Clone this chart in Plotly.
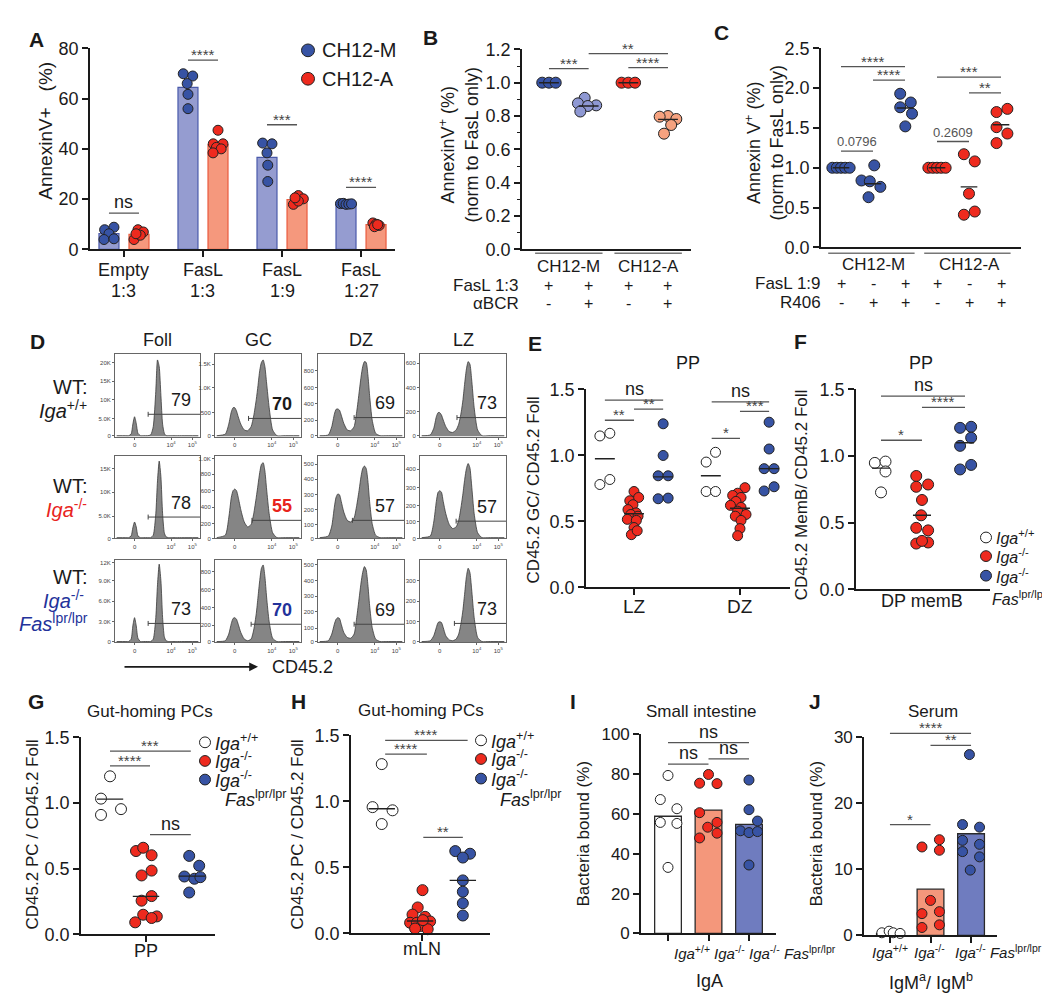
import plotly.graph_objects as go

W, H = 1050, 1007
FONT = "Arial, Liberation Sans, Helvetica, sans-serif"
INK = "#1a1a1a"
SIGC = "#555555"
BLUE = "#3753A4"
RED = "#EE2A1E"
LBLUE = "#8E98D3"
SALMON = "#F6A27F"
REDTXT = "#E8241C"
BLUETXT = "#23329A"

# ======================= DATA =======================
# ---- Panel A ----
A_cat_top = ["Empty", "FasL", "FasL", "FasL"]
A_cat_bottom = ["1:3", "1:3", "1:9", "1:27"]
A_M_means = [6.3, 64.5, 36.6, 18.0]
A_A_means = [6.0, 41.7, 19.8, 9.8]
A_M_points = [[7.8, 8.8, 6.2, 3.9, 4.2], [69.9, 69.0, 66.0, 61.7, 56.0],
              [42.3, 42.0, 38.4, 33.5, 27.0], [18.2, 18.3, 17.9, 18.0, 18.1]]
A_A_points = [[7.8, 6.9, 3.9, 5.6, 6.2], [47.4, 42.0, 42.0, 40.6, 40.0, 38.4],
              [21.4, 20.1, 17.9, 19.2, 20.5], [10.5, 10.0, 9.5, 9.0, 9.8]]
A_sig_text = ["ns", "****", "***", "****"]
A_sig_y = [14.4, 75.3, 49.6, 24.7]
A_M_dx = [[-0.055, 0.063, 0, -0.063, 0.063], [-0.06, 0.06, -0.01, 0, 0],
          [-0.055, 0.063, 0, 0.01, 0.01], [-0.07, -0.035, 0, 0.035, 0.07]]
A_A_dx = [[-0.013, 0.055, -0.063, 0.017, -0.038], [0, -0.06, 0.063, -0.02, 0.04, -0.063],
          [0.017, 0.08, -0.046, 0.017, -0.025], [-0.04, 0, 0.04, -0.02, 0.02]]

# ---- Panel B ----
B_cells = ["CH12-M", "CH12-A"]
B_fasl = ["+", "+", "+", "+"]
B_bcr = ["-", "+", "-", "+"]
B_points = [[1.0, 1.0, 1.0], [0.909, 0.876, 0.864, 0.860, 0.827],
            [1.0, 1.0, 1.0], [0.800, 0.796, 0.782, 0.746, 0.694]]
B_dx = [[-0.17, 0, 0.17], [-0.1, -0.27, 0.19, -0.02, -0.21],
        [-0.17, 0, 0.17], [0, -0.21, 0.21, 0.08, -0.1]]
B_medians = [1.0, 0.86, 1.0, 0.78]
B_sig = [(0, 1, 1.085, "***"), (2, 3, 1.09, "****"), (1, 3, 1.175, "**")]

# ---- Panel C ----
C_cells = ["CH12-M", "CH12-A"]
C_fasl = ["+", "-", "+", "+", "-", "+"]
C_r406 = ["-", "+", "+", "-", "+", "+"]
C_points = [[1, 1, 1, 1, 1], [1.03, 0.84, 0.83, 0.76, 0.63], [1.93, 1.82, 1.76, 1.68, 1.52],
            [1, 1, 1, 1, 1], [1.17, 1.08, 0.675, 0.41, 0.45], [1.70, 1.74, 1.51, 1.43, 1.31]]
C_dx = [[-0.27, -0.13, 0, 0.13, 0.27], [0.04, -0.36, -0.1, 0.23, -0.14], [-0.15, 0.18, -0.15, 0.22, 0.01],
        [-0.27, -0.13, 0, 0.13, 0.27], [-0.16, 0.18, 0, -0.16, 0.18], [-0.14, 0.2, -0.14, 0.2, -0.14]]
C_medians = [1.0, 0.80, 1.75, 1.0, 0.76, 1.54]
C_sig = [(0, 1, 1.21, "0.0796"), (1, 2, 2.10, "****"), (0, 2, 2.27, "****"),
         (3, 4, 1.33, "0.2609"), (4, 5, 1.94, "**"), (3, 5, 2.14, "***")]

# ---- Panel D (flow histograms; curve heights as fraction of box height) ----
D_cols = ["Foll", "GC", "DZ", "LZ"]
HX = [0.02, 0.12, 0.16, 0.19, 0.21, 0.23, 0.25, 0.27, 0.30, 0.34, 0.38, 0.42, 0.45,
      0.48, 0.50, 0.52, 0.54, 0.56, 0.58, 0.60, 0.63, 0.67, 0.72, 0.80, 0.98]
D_curves = [
    [  # row 1 Iga+/+
        [0.01, 0.01, 0.01, 0.03, 0.15, 0.24, 0.16, 0.04, 0.01, 0.01, 0.01, 0.02, 0.12, 0.55, 0.93, 0.85, 0.5, 0.15, 0.04, 0.01, 0.01, 0.01, 0.01, 0.01, 0.01],
        [0.01, 0.03, 0.15, 0.30, 0.35, 0.35, 0.31, 0.24, 0.15, 0.08, 0.07, 0.12, 0.25, 0.45, 0.62, 0.80, 0.90, 0.93, 0.85, 0.65, 0.35, 0.08, 0.01, 0.01, 0.01],
        [0.01, 0.02, 0.12, 0.27, 0.33, 0.335, 0.32, 0.26, 0.16, 0.08, 0.07, 0.12, 0.30, 0.55, 0.72, 0.85, 0.91, 0.90, 0.75, 0.50, 0.20, 0.04, 0.01, 0.01, 0.01],
        [0.01, 0.02, 0.10, 0.24, 0.29, 0.29, 0.26, 0.20, 0.12, 0.06, 0.05, 0.08, 0.15, 0.30, 0.45, 0.65, 0.82, 0.91, 0.88, 0.70, 0.35, 0.08, 0.01, 0.01, 0.01],
    ],
    [  # row 2 Iga-/-
        [0.01, 0.01, 0.01, 0.03, 0.13, 0.20, 0.14, 0.03, 0.01, 0.01, 0.01, 0.01, 0.04, 0.30, 0.70, 0.94, 0.75, 0.30, 0.07, 0.02, 0.01, 0.01, 0.01, 0.01, 0.01],
        [0.01, 0.04, 0.25, 0.50, 0.58, 0.60, 0.58, 0.50, 0.35, 0.20, 0.14, 0.17, 0.30, 0.50, 0.65, 0.80, 0.90, 0.92, 0.82, 0.60, 0.30, 0.07, 0.01, 0.01, 0.01],
        [0.01, 0.03, 0.15, 0.38, 0.50, 0.54, 0.53, 0.45, 0.32, 0.22, 0.20, 0.25, 0.40, 0.60, 0.75, 0.85, 0.88, 0.85, 0.70, 0.45, 0.18, 0.04, 0.01, 0.01, 0.01],
        [0.01, 0.03, 0.20, 0.45, 0.56, 0.58, 0.56, 0.45, 0.30, 0.17, 0.12, 0.14, 0.22, 0.40, 0.55, 0.72, 0.85, 0.91, 0.86, 0.65, 0.30, 0.07, 0.01, 0.01, 0.01],
    ],
    [  # row 3 Iga-/- Fas lpr/lpr
        [0.01, 0.01, 0.01, 0.04, 0.20, 0.30, 0.20, 0.05, 0.01, 0.01, 0.01, 0.01, 0.04, 0.30, 0.70, 0.95, 0.75, 0.30, 0.07, 0.02, 0.01, 0.01, 0.01, 0.01, 0.01],
        [0.01, 0.02, 0.10, 0.23, 0.29, 0.30, 0.28, 0.22, 0.12, 0.04, 0.02, 0.04, 0.15, 0.35, 0.55, 0.75, 0.90, 0.94, 0.80, 0.55, 0.25, 0.05, 0.01, 0.01, 0.01],
        [0.01, 0.02, 0.10, 0.22, 0.28, 0.30, 0.29, 0.22, 0.12, 0.06, 0.05, 0.10, 0.30, 0.55, 0.72, 0.85, 0.92, 0.88, 0.70, 0.45, 0.18, 0.04, 0.01, 0.01, 0.01],
        [0.01, 0.02, 0.08, 0.18, 0.24, 0.25, 0.24, 0.18, 0.08, 0.03, 0.02, 0.04, 0.10, 0.25, 0.40, 0.60, 0.80, 0.90, 0.85, 0.65, 0.30, 0.06, 0.01, 0.01, 0.01],
    ],
]
D_gate_start = [[0.39, 0.39, 0.42, 0.43], [0.39, 0.43, 0.40, 0.42], [0.39, 0.42, 0.42, 0.40]]
D_gate_level = [[0.27, 0.22, 0.23, 0.23], [0.26, 0.22, 0.22, 0.21], [0.23, 0.22, 0.22, 0.23]]
D_gate_pct = [["79", "70", "69", "73"], ["78", "55", "57", "57"], ["73", "70", "69", "73"]]
D_ytick_pos = [
    [[0.01, 0.22, 0.45, 0.67, 0.90], [0.01, 0.29, 0.59, 0.88], [0.01, 0.20, 0.40, 0.59, 0.80], [0.01, 0.30, 0.59, 0.89]],
    [[0.0, 0.27, 0.56, 0.85], [0.0, 0.18, 0.38, 0.58, 0.78, 0.97], [0.0, 0.17, 0.35, 0.53, 0.72, 0.90], [0.0, 0.20, 0.40, 0.62, 0.84]],
    [[0.01, 0.25, 0.50, 0.75, 0.97], [0.01, 0.21, 0.42, 0.64, 0.86], [0.01, 0.17, 0.37, 0.56, 0.75, 0.94], [0.01, 0.25, 0.50, 0.75]],
]
D_ytick_txt = [
    [["0", "5.0K", "10K", "15K", "20K"], ["0", "500", "1.0K", "1.5K"], ["0", "200", "400", "600", "800"], ["0", "200", "400", "600"]],
    [["0", "5.0K", "10K", "15K"], ["0", "200", "400", "600", "800", "1.0K"], ["0", "100", "200", "300", "400", "500"], ["0", "100", "200", "300", "400"]],
    [["0", "3.0K", "6.0K", "9.0K", "12K"], ["0", "200", "400", "600", "800"], ["0", "100", "200", "300", "400", "500"], ["0", "100", "200", "300"]],
]
D_xtick_pos = [0.23, 0.66, 0.91]
D_xtick_txt = ["0", "10<sup>4</sup>", "10<sup>5</sup>"]

# ---- Panel E ----
E_categories = ["LZ", "DZ"]
E_points = {
    "LZ": [[1.148, 1.168, 0.780, 0.818],
           [0.727, 0.657, 0.682, 0.627, 0.590, 0.565, 0.553, 0.540, 0.516, 0.508, 0.454, 0.400, 0.430],
           [1.240, 1.000, 0.846, 0.846, 0.672, 0.677]],
    "DZ": [[0.950, 1.024, 0.727, 0.727],
           [0.756, 0.714, 0.697, 0.682, 0.652, 0.622, 0.607, 0.578, 0.553, 0.540, 0.508, 0.446, 0.392],
           [1.252, 1.049, 0.900, 0.900, 0.731, 0.763]],
}
E_dx = {
    "LZ": [[-0.047, 0.047, -0.047, 0.047],
           [0, -0.04, 0.044, -0.01, -0.057, 0.02, -0.03, 0.038, -0.063, 0.022, 0, -0.025, 0.03],
           [0, 0, -0.047, 0.047, -0.047, 0.047]],
    "DZ": [[-0.044, 0.044, -0.044, 0.044],
           [0.047, -0.022, -0.069, 0.01, -0.038, -0.09, 0.01, -0.022, 0.057, -0.044, 0.01, 0, -0.022],
           [0, 0, -0.047, 0.047, -0.047, 0.047]],
}
E_medians = {"LZ": [0.975, 0.558, 0.838], "DZ": [0.846, 0.600, 0.900]}
E_sig = [(-0.275, 0.0, 1.267, "**"), (0.0, 0.275, 1.351, "**"), (-0.275, 0.275, 1.42, "ns"),
         (0.733, 1.0, 1.13, "*"), (1.0, 1.275, 1.334, "***"), (0.733, 1.275, 1.406, "ns")]

# ---- Panel F ----
F_category = ["DP memB"]
F_points = [[0.949, 0.959, 0.885, 0.728],
            [0.851, 0.770, 0.787, 0.671, 0.556, 0.462, 0.443, 0.344, 0.352, 0.364],
            [1.212, 1.220, 1.077, 1.138, 0.900, 0.934]]
F_dx = [[-0.15, 0.11, 0.11, 0],
        [-0.14, -0.14, 0.15, 0, -0.02, -0.14, 0.15, -0.14, 0.15, 0],
        [-0.12, 0.15, -0.12, 0.15, -0.12, 0.15]]
F_medians = [0.91, 0.556, 1.10]
F_sig = [(-1.0, 0.0, 1.119, "*"), (0.0, 1.05, 1.365, "****"), (-1.0, 1.05, 1.45, "ns")]

# ---- Panel G ----
G_category = ["PP"]
G_points = [[1.204, 1.034, 0.954, 0.910],
            [0.635, 0.660, 0.603, 0.486, 0.449, 0.292, 0.257, 0.150, 0.092, 0.137, 0.125],
            [0.598, 0.523, 0.441, 0.424, 0.436, 0.319]]
G_dx = [[0, -0.225, 0.275, -0.225],
        [-0.25, -0.07, 0.14, 0.14, -0.11, 0.14, -0.11, -0.07, -0.27, 0.27, 0.14],
        [-0.07, 0.18, -0.19, 0.06, 0.21, -0.07]]
G_medians = [1.03, 0.29, 0.444]
G_sig = [(-0.9, 0.1, 1.283, "****"), (-0.9, 1.12, 1.395, "***"), (0.1, 1.12, 0.76, "ns")]

# ---- Panel H ----
H_category = ["mLN"]
H_points = [[1.283, 0.957, 0.933, 0.829],
            [0.328, 0.197, 0.143, 0.126, 0.081, 0.081, 0.091, 0.057, 0.037, 0.032, 0.101],
            [0.624, 0.604, 0.575, 0.402, 0.316, 0.229, 0.136]]
H_dx = [[0, -0.23, 0.27, 0],
        [0.06, -0.06, -0.19, 0.125, -0.25, -0.08, 0.25, 0.03, -0.125, 0.19, 0.07],
        [-0.19, 0.18, 0, 0, 0, 0, 0]]
H_medians = [0.945, 0.094, 0.402]
H_sig = [(-0.875, 0.17, 1.359, "****"), (-0.875, 1.19, 1.463, "****"), (0.08, 1.07, 0.728, "**")]

# ---- Panel I ----
IJ_labels = ["<i>Iga</i><sup>+/+</sup>", "<i>Iga</i><sup>-/-</sup>",
             "<i>Iga</i><sup>-/-</sup> <i>Fas</i><sup>lpr/lpr</sup>"]
I_bars = [58.9, 62.0, 54.8]
I_points = [[79.4, 67.3, 62.7, 55.8, 55.3, 33.2],
            [79.9, 75.5, 75.3, 60.7, 53.4, 55.8, 50.4, 48.0],
            [77.1, 62.2, 56.5, 51.6, 50.7, 51.2, 34.4]]
I_dx = [[0, -0.19, 0.22, -0.19, 0.22, 0],
        [0, -0.22, 0.21, -0.22, -0.02, 0.21, 0.21, -0.22],
        [0, 0, 0.21, -0.21, 0, 0.21, 0]]
I_sig = [(0, 1, 85.1, "ns"), (1, 2, 87.7, "ns"), (0, 2, 95.9, "ns")]

# ---- Panel J ----
J_bars = [0.3, 7.0, 15.4]
J_points = [[0.4, 0.64, 0.4, 0.3],
            [13.4, 14.5, 12.9, 5.3, 3.3, 3.6, 1.2, 1.6],
            [27.4, 16.8, 16.4, 14.4, 13.8, 12.7, 11.9, 9.9]]
J_dx = [[-0.2, -0.02, 0.08, 0.25],
        [-0.21, 0.22, 0.22, 0, -0.21, 0.22, -0.21, 0.22],
        [-0.04, -0.21, 0.21, -0.21, 0.21, -0.21, 0.21, -0.02]]
J_sig = [(0, 1, 16.8, "*"), (1, 2, 28.8, "**"), (0, 2, 30.6, "****")]

# ======================= HELPERS =======================
layout = dict(width=W, height=H, margin=dict(l=0, r=0, t=0, b=0, pad=0),
              paper_bgcolor="white", plot_bgcolor="rgba(0,0,0,0)", showlegend=False,
              font=dict(family=FONT, color=INK))
traces, annotations, shapes = [], [], []
_n = [0]


def new_axes(xpx, ypx, xrange, yrange, xopts=None, yopts=None):
    _n[0] += 1
    s = "" if _n[0] == 1 else str(_n[0])
    xa = dict(domain=[xpx[0] / W, xpx[1] / W], range=xrange, anchor="y" + s,
              showgrid=False, zeroline=False, fixedrange=True)
    ya = dict(domain=[1 - ypx[1] / H, 1 - ypx[0] / H], range=yrange, anchor="x" + s,
              showgrid=False, zeroline=False, fixedrange=True)
    xa.update(xopts or {})
    ya.update(yopts or {})
    layout["xaxis" + s] = xa
    layout["yaxis" + s] = ya
    return "x" + s, "y" + s


def overlay_axes(xpx, ypx, xrange, yrange, ext=45):
    top, bot = ypx
    ext = min(ext, top - 2)
    y1 = yrange[1] + (yrange[1] - yrange[0]) * ext / (bot - top)
    return new_axes(xpx, (top - ext, bot), xrange, [yrange[0], y1],
                    dict(visible=False), dict(visible=False))


def yax(tickvals, size=18, fmt=None, minor=None):
    d = dict(visible=True, showline=True, linecolor=INK, linewidth=1.6, ticks="outside", ticklen=6,
             tickwidth=1.6, tickcolor=INK, tickvals=tickvals, tickfont=dict(size=size, color=INK))
    if fmt:
        d["tickformat"] = fmt
    if minor:
        d["minor"] = minor
    return d


def xax(tickvals=None):
    d = dict(showline=True, linecolor=INK, linewidth=1.6, showticklabels=False)
    if tickvals is not None:
        d.update(ticks="outside", ticklen=6, tickwidth=1.6, tickcolor=INK, tickvals=tickvals)
    else:
        d.update(ticks="")
    return d


def cat_labels(xa, xs, texts, ypx, size=18, shifts=None, anchors=None, color=INK):
    for k, (x, t) in enumerate(zip(xs, texts)):
        annotations.append(dict(x=x, y=1 - ypx / H, xref=xa, yref="paper", text=t, showarrow=False,
                                xanchor=(anchors[k] if anchors else "center"), yanchor="middle",
                                xshift=(shifts[k] if shifts else 0), font=dict(size=size, color=color)))


def points(xa, ya, center, values, dx, color, size=10):
    traces.append(go.Scatter(x=[center + d for d in dx], y=values, mode="markers", xaxis=xa, yaxis=ya,
                             cliponaxis=False, hoverinfo="skip",
                             marker=dict(size=size, color=color, line=dict(color="#222222", width=1))))


def median_lines(xa, ya, centers, vals, hw, color="#222222", width=1.4):
    xs, ys = [], []
    for c, v in zip(centers, vals):
        xs += [c - hw, c + hw, None]
        ys += [v, v, None]
    traces.append(go.Scatter(x=xs, y=ys, mode="lines", xaxis=xa, yaxis=ya, hoverinfo="skip",
                             line=dict(color=color, width=width)))


def sig(xa, ya, x0, x1, y, text):
    traces.append(go.Scatter(x=[x0, x1], y=[y, y], mode="lines", xaxis=xa, yaxis=ya, hoverinfo="skip",
                             line=dict(color=SIGC, width=1.3)))
    if "*" in text:
        size, shift, col = 15, -5, "#444444"
    elif text == "ns":
        size, shift, col = 18, -1, INK
    else:
        size, shift, col = 13, 0, "#555555"
    annotations.append(dict(x=(x0 + x1) / 2, y=y, xref=xa, yref=ya, text=text, showarrow=False,
                            yanchor="bottom", yshift=shift, font=dict(size=size, color=col)))


def ptext(xpx, ypx, text, size=17, xanchor="center", yanchor="middle", angle=0, color=INK, bold=False):
    if bold:
        text = "<b>" + text + "</b>"
    annotations.append(dict(x=xpx / W, y=1 - ypx / H, xref="paper", yref="paper", text=text,
                            showarrow=False, xanchor=xanchor, yanchor=yanchor, textangle=angle,
                            font=dict(size=size, color=color)))


def circle(xpx, ypx, d, color):
    shapes.append(dict(type="circle", xref="paper", yref="paper",
                       x0=(xpx - d / 2) / W, x1=(xpx + d / 2) / W,
                       y0=1 - (ypx + d / 2) / H, y1=1 - (ypx - d / 2) / H,
                       fillcolor=color, line=dict(color="#222222", width=1)))


def geno_legend(x, ys, fas_x, fas_y, size=18):
    cols = ["white", RED, BLUE]
    labs = ["<i>Iga</i><sup>+/+</sup>", "<i>Iga</i><sup>-/-</sup>", "<i>Iga</i><sup>-/-</sup>"]
    for yy, c, l in zip(ys, cols, labs):
        circle(x, yy, 11, c)
        ptext(x + 8, yy, l, size=size, xanchor="left")
    ptext(fas_x, fas_y, "<i>Fas</i><sup>lpr/lpr</sup>", size=size, xanchor="left")


# ======================= PANEL A =======================
A_xpx, A_ypx, A_xr, A_yr = (82, 387), (31, 236), [-0.43, 3.43], [0, 80]
pos = list(range(len(A_cat_top)))
xa, ya = new_axes(A_xpx, A_ypx, A_xr, A_yr, xax(pos), yax([0, 20, 40, 60, 80], size=18))
traces.append(go.Bar(x=[p - 0.19 for p in pos], y=A_M_means, width=0.253, xaxis=xa, yaxis=ya,
                     marker=dict(color="#959CD0", line=dict(color="#4A5AAB", width=1.2)), hoverinfo="skip"))
traces.append(go.Bar(x=[p + 0.19 for p in pos], y=A_A_means, width=0.253, xaxis=xa, yaxis=ya,
                     marker=dict(color="#F5987D", line=dict(color="#EA5A3D", width=1.2)), hoverinfo="skip"))
for i in pos:
    points(xa, ya, i - 0.19, A_M_points[i], A_M_dx[i], BLUE, 10)
    points(xa, ya, i + 0.19, A_A_points[i], A_A_dx[i], RED, 10)
cat_labels(xa, pos, A_cat_top, 257, size=18)
cat_labels(xa, pos, A_cat_bottom, 279, size=18)
sx, sy = overlay_axes(A_xpx, A_ypx, A_xr, A_yr)
for i in pos:
    sig(sx, sy, i - 0.19, i + 0.19, A_sig_y[i], A_sig_text[i])
ptext(38, 115, "AnnexinV+   (%)", size=19, angle=-90)
circle(300, 33, 13, BLUE)
circle(300, 62, 13, RED)
ptext(312, 33, "CH12-M", size=20, xanchor="left")
ptext(312, 62, "CH12-A", size=20, xanchor="left")
ptext(28, 22, "A", size=21, bold=True)

# ======================= PANEL B =======================
B_xpx, B_ypx, B_xr, B_yr = (514, 683), (32, 236), [-0.68, 3.58], [0, 1.2]
xa, ya = new_axes(B_xpx, B_ypx, B_xr, B_yr, xax(),
                  yax([0, 0.2, 0.4, 0.6, 0.8, 1.0, 1.2], size=18, fmt=".1f",
                      minor=dict(dtick=0.1, ticks="outside", ticklen=3, tickwidth=1.2, tickcolor=INK)))
B_cols = [BLUE, LBLUE, RED, SALMON]
for i in range(4):
    points(xa, ya, i, B_points[i], B_dx[i], B_cols[i], 11)
median_lines(xa, ya, range(4), B_medians, 0.25)
sx, sy = overlay_axes(B_xpx, B_ypx, B_xr, B_yr)
for a, b, y, t in B_sig:
    sig(sx, sy, a, b, y, t)
for k, name in enumerate(B_cells):
    shapes.append(dict(type="line", xref=xa, yref="paper", x0=2 * k - 0.35, x1=2 * k + 1.35,
                       y0=1 - 240 / H, y1=1 - 240 / H, line=dict(color="#777777", width=1.5)))
cat_labels(xa, [0.5, 2.5], B_cells, 254, size=17)
cat_labels(xa, range(4), B_fasl, 273, size=16)
cat_labels(xa, range(4), B_bcr, 291, size=16)
ptext(513, 273, "FasL 1:3", size=17, xanchor="right")
ptext(513, 291, "αBCR", size=17, xanchor="right")
ptext(451, 130, "AnnexinV<sup>+</sup> (%)<br>(norm to FasL only)", size=18, angle=-90)
ptext(422, 20, "B", size=21, bold=True)

# ======================= PANEL C =======================
C_xpx, C_ypx, C_xr, C_yr = (813, 1013), (31, 234), [-0.625, 5.625], [0, 2.5]
xa, ya = new_axes(C_xpx, C_ypx, C_xr, C_yr, xax(),
                  yax([0, 0.5, 1.0, 1.5, 2.0, 2.5], size=18, fmt=".1f"))
for i in range(6):
    points(xa, ya, i, C_points[i], C_dx[i], BLUE if i < 3 else RED, 11)
median_lines(xa, ya, range(6), C_medians, 0.26)
sx, sy = overlay_axes(C_xpx, C_ypx, C_xr, C_yr)
for a, b, y, t in C_sig:
    sig(sx, sy, a, b, y, t)
for k, name in enumerate(C_cells):
    shapes.append(dict(type="line", xref=xa, yref="paper", x0=3 * k - 0.4, x1=3 * k + 2.3,
                       y0=1 - 240 / H, y1=1 - 240 / H, line=dict(color="#777777", width=1.5)))
cat_labels(xa, [1, 4], C_cells, 252, size=17)
cat_labels(xa, range(6), C_fasl, 271, size=16)
cat_labels(xa, range(6), C_r406, 290, size=16)
ptext(815, 271, "FasL 1:9", size=17, xanchor="right")
ptext(815, 290, "R406", size=17, xanchor="right")
ptext(757, 128, "Annexin V<sup>+</sup> (%)<br>(norm to FasL only)", size=18, angle=-90)
ptext(713, 15, "C", size=21, bold=True)

# ======================= PANEL D =======================
hist_cols_px = [(107, 192), (207, 293), (310, 396), (412, 498)]
hist_rows_px = [(343, 427), (447, 531), (553, 637)]
gate_colors = [[INK, INK, INK, INK], [INK, REDTXT, INK, INK], [INK, BLUETXT, INK, INK]]
for r in range(3):
    for c in range(4):
        hx = dict(showline=True, mirror=True, linecolor="#666666", linewidth=1, ticks="outside", ticklen=2,
                  tickwidth=0.8, tickcolor="#666666", tickvals=D_xtick_pos, ticktext=D_xtick_txt,
                  tickfont=dict(size=6, color="#444444"), tickangle=0)
        hy = dict(showline=True, mirror=True, linecolor="#666666", linewidth=1, ticks="outside", ticklen=2,
                  tickwidth=0.8, tickcolor="#666666", tickvals=D_ytick_pos[r][c], ticktext=D_ytick_txt[r][c],
                  tickfont=dict(size=6, color="#444444"))
        xa, ya = new_axes(hist_cols_px[c], hist_rows_px[r], [0, 1], [0, 1], hx, hy)
        traces.append(go.Scatter(x=HX, y=D_curves[r][c], mode="lines", fill="tozeroy", fillcolor="#858585",
                                 line=dict(color="#3a3a3a", width=0.8, shape="spline", smoothing=0.6),
                                 xaxis=xa, yaxis=ya, hoverinfo="skip"))
        gs, gl = D_gate_start[r][c], D_gate_level[r][c]
        traces.append(go.Scatter(x=[gs, 1.0, None, gs, gs], y=[gl, gl, None, gl - 0.03, gl + 0.03],
                                 mode="lines", line=dict(color="#444444", width=1), xaxis=xa, yaxis=ya,
                                 hoverinfo="skip"))
        txt = D_gate_pct[r][c]
        annotations.append(dict(x=0.78, y=gl + 0.03, xref=xa, yref=ya, showarrow=False, yanchor="bottom",
                                text=("<b>" + txt + "</b>") if c == 1 else txt,
                                font=dict(size=18, color=gate_colors[r][c])))
for c, name in enumerate(D_cols):
    ptext(sum(hist_cols_px[c]) / 2, 329, name, size=18)
ptext(81, 376, "WT:", size=20, xanchor="right")
ptext(81, 399, "<i>Iga</i><sup>+/+</sup>", size=20, xanchor="right")
ptext(81, 477, "WT:", size=20, xanchor="right")
ptext(81, 500, "<i>Iga</i><sup>-/-</sup>", size=20, xanchor="right", color=REDTXT)
ptext(81, 570, "WT:", size=20, xanchor="right")
ptext(78, 593, "<i>Iga</i><sup>-/-</sup>", size=20, xanchor="right", color=BLUETXT)
ptext(82, 617, "<i>Fas</i><sup>lpr/lpr</sup>", size=20, xanchor="right", color=BLUETXT)
annotations.append(dict(x=250 / W, y=1 - 662 / H, xref="paper", yref="paper", text="", showarrow=True,
                        ax=-135, ay=0, arrowhead=2, arrowsize=1.1, arrowwidth=1.6, arrowcolor=INK))
ptext(262, 662, "CD45.2", size=18, xanchor="left")
ptext(29, 330, "D", size=21, bold=True)

# ======================= PANEL E =======================
E_xpx, E_ypx, E_xr, E_yr = (578, 782), (379, 581), [-0.453, 1.472], [0, 1.5]
xa, ya = new_axes(E_xpx, E_ypx, E_xr, E_yr, xax([0, 1]), yax([0, 0.5, 1.0, 1.5], size=18, fmt=".1f"))
grp_off = [-0.275, 0.0, 0.275]
grp_col = ["white", RED, BLUE]
for k, cat in enumerate(E_categories):
    for g in range(3):
        points(xa, ya, k + grp_off[g], E_points[cat][g], E_dx[cat][g], grp_col[g], 10)
    median_lines(xa, ya, [k + o for o in grp_off], E_medians[cat], 0.094)
cat_labels(xa, [0, 1], E_categories, 600, size=19)
sx, sy = overlay_axes(E_xpx, E_ypx, E_xr, E_yr)
for a, b, y, t in E_sig:
    sig(sx, sy, a, b, y, t)
ptext(680, 352, "PP", size=18)
ptext(525, 482, "CD45.2 GC/ CD45.2 Foll", size=17, angle=-90)
ptext(527, 332, "E", size=21, bold=True)

# ======================= PANEL F =======================
F_xpx, F_ypx, F_xr, F_yr = (848, 982), (379, 583), [-1.61, 1.66], [0, 1.5]
xa, ya = new_axes(F_xpx, F_ypx, F_xr, F_yr, xax(), yax([0, 0.5, 1.0, 1.5], size=18, fmt=".1f"))
F_pos = [-1.0, 0.0, 1.05]
for g in range(3):
    points(xa, ya, F_pos[g], F_points[g], F_dx[g], grp_col[g], 11)
median_lines(xa, ya, F_pos, F_medians, 0.22)
cat_labels(xa, [0], F_category, 595, size=18)
sx, sy = overlay_axes(F_xpx, F_ypx, F_xr, F_yr)
for a, b, y, t in F_sig:
    sig(sx, sy, a, b, y, t)
ptext(913, 352, "PP", size=18)
ptext(793, 487, "CD45.2 MemB/ CD45.2 Foll", size=17, angle=-90)
geno_legend(978, [530, 549, 569], 982, 592, size=16)
ptext(792, 330, "F", size=21, bold=True)

# ======================= PANEL G =======================
G_xpx, G_ypx, G_xr, G_yr = (73, 207), (734, 935), [-1.625, 1.725], [0, 1.5]
xa, ya = new_axes(G_xpx, G_ypx, G_xr, G_yr, xax([0]), yax([0, 0.5, 1.0, 1.5], size=18, fmt=".1f"))
G_pos = [-0.9, 0.0, 1.15]
for g in range(3):
    points(xa, ya, G_pos[g], G_points[g], G_dx[g], grp_col[g], 11)
median_lines(xa, ya, G_pos, G_medians, 0.33)
cat_labels(xa, [0], G_category, 952, size=18)
sx, sy = overlay_axes(G_xpx, G_ypx, G_xr, G_yr)
for a, b, y, t in G_sig:
    sig(sx, sy, a, b, y, t)
ptext(142, 708, "Gut-homing PCs", size=17)
ptext(24, 833, "CD45.2 PC / CD45.2 Foll", size=17, angle=-90)
geno_legend(197, [739, 758, 777], 215, 796)
ptext(28, 697, "G", size=21, bold=True)

# ======================= PANEL H =======================
H_xpx, H_ypx, H_xr, H_yr = (343, 482), (732, 934), [-1.73, 1.75], [0, 1.5]
xa, ya = new_axes(H_xpx, H_ypx, H_xr, H_yr, xax([0.05]), yax([0, 0.5, 1.0, 1.5], size=18, fmt=".1f"))
H_pos = [-0.96, 0.0, 1.07]
for g in range(3):
    points(xa, ya, H_pos[g], H_points[g], H_dx[g], grp_col[g], 11)
median_lines(xa, ya, H_pos, H_medians, 0.33)
cat_labels(xa, [0.05], H_category, 950, size=18)
sx, sy = overlay_axes(H_xpx, H_ypx, H_xr, H_yr)
for a, b, y, t in H_sig:
    sig(sx, sy, a, b, y, t)
ptext(413, 707, "Gut-homing PCs", size=17)
ptext(289, 833, "CD45.2 PC / CD45.2 Foll", size=17, angle=-90)
geno_legend(473, [737, 756, 776], 490, 796)
ptext(290, 697, "H", size=21, bold=True)

# ======================= PANEL I =======================
bar_fill = ["#FFFFFF", "#F4977B", "#6F7CBF"]
I_xpx, I_ypx, I_xr, I_yr = (633, 768), (731, 934), [-0.667, 2.667], [0, 100]
xa, ya = new_axes(I_xpx, I_ypx, I_xr, I_yr, xax([0, 1, 2]), yax([0, 20, 40, 60, 80, 100], size=17))
traces.append(go.Bar(x=[0, 1, 2], y=I_bars, width=0.66, xaxis=xa, yaxis=ya, hoverinfo="skip",
                     marker=dict(color=bar_fill, line=dict(color="#2a2a2a", width=1.3))))
for g in range(3):
    points(xa, ya, g, I_points[g], I_dx[g], grp_col[g], 10)
cat_labels(xa, [0, 1, 2], IJ_labels, 953, size=15, shifts=[24, 21, -2],
           anchors=["center", "center", "left"])
sx, sy = overlay_axes(I_xpx, I_ypx, I_xr, I_yr)
for a, b, y, t in I_sig:
    sig(sx, sy, a, b, y, t)
ptext(693, 708, "Small intestine", size=17)
ptext(701, 983, "IgA", size=18)
ptext(575, 832, "Bacteria bound (%)", size=17, angle=-90)
ptext(565, 697, "I", size=21, bold=True)

# ======================= PANEL J =======================
J_xpx, J_ypx, J_xr, J_yr = (856, 989), (734, 936), [-0.64, 2.64], [0, 30]
xa, ya = new_axes(J_xpx, J_ypx, J_xr, J_yr, xax([0, 1, 2]), yax([0, 10, 20, 30], size=17))
traces.append(go.Bar(x=[0, 1, 2], y=J_bars, width=0.66, xaxis=xa, yaxis=ya, hoverinfo="skip",
                     marker=dict(color=bar_fill, line=dict(color="#2a2a2a", width=1.3))))
for g in range(3):
    points(xa, ya, g, J_points[g], J_dx[g], grp_col[g], 10)
cat_labels(xa, [0, 1, 2], IJ_labels, 952, size=15, shifts=[0, -1, -18],
           anchors=["center", "center", "left"])
sx, sy = overlay_axes(J_xpx, J_ypx, J_xr, J_yr)
for a, b, y, t in J_sig:
    sig(sx, sy, a, b, y, t)
ptext(925, 708, "Serum", size=17)
ptext(923, 983, "IgM<sup>a</sup>/ IgM<sup>b</sup>", size=18)
ptext(808, 832, "Bacteria bound (%)", size=17, angle=-90)
ptext(807, 697, "J", size=21, bold=True)

layout["annotations"] = annotations
layout["shapes"] = shapes
layout["barmode"] = "overlay"
fig = go.Figure(data=traces, layout=layout)
fig.write_html("out.html")
